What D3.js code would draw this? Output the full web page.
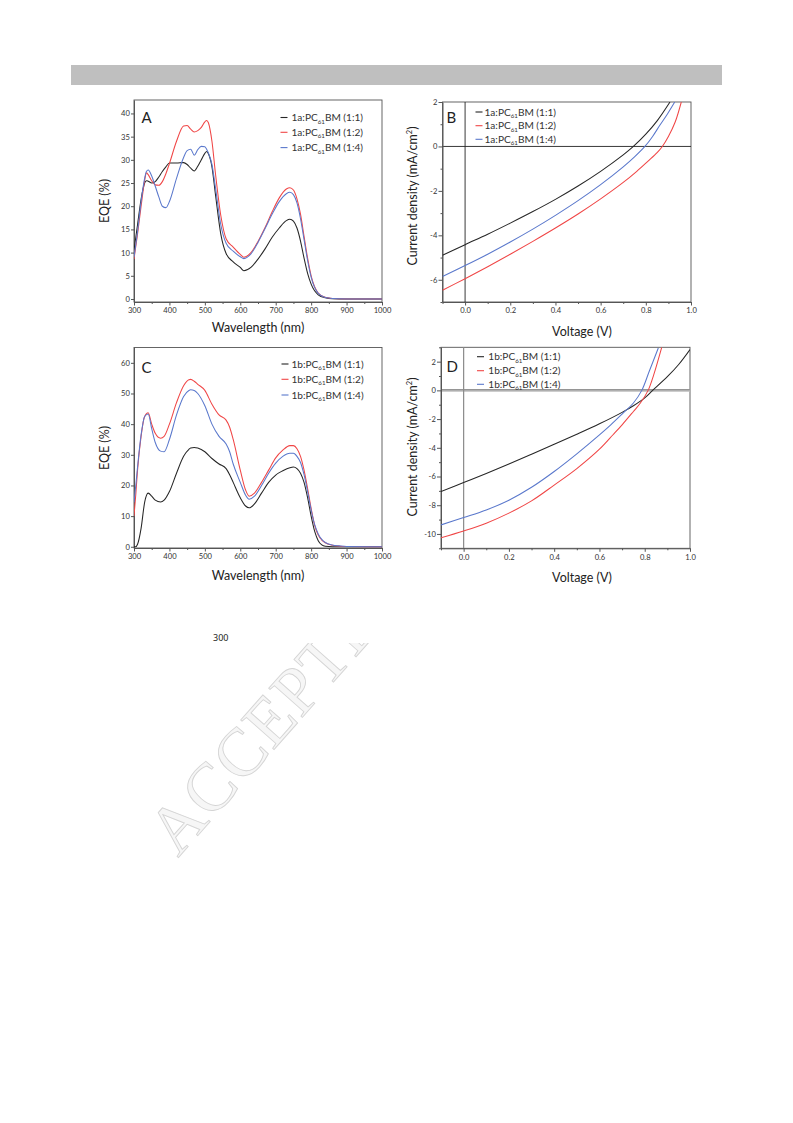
<!DOCTYPE html>
<html>
<head>
<meta charset="utf-8">
<script src="https://cdn.jsdelivr.net/npm/d3@7"></script>
<style>
  html, body { margin: 0; padding: 0; background: #fff; }
  svg { display: block; }
</style>
</head>
<body>
<svg id="page" width="793" height="1123"></svg>
<script>
// ---------------- DATA ----------------
// Panel A: EQE (%) vs wavelength (nm), 1a:PC61BM
const wlA = [300,310,320,330,335,340,350,360,370,380,390,400,420,440,450,460,470,480,490,500,505,510,520,530,545,560,580,600,610,630,650,670,690,710,730,740,750,760,770,780,790,800,820,840,860,900,1000];
const eqeA_11 = [10.5,16,21.5,25,25.5,25.4,25,25.3,26.3,27.5,28.5,29.3,29.3,29.4,29,28.2,27.6,28.6,30,31.4,31.8,31.3,28.5,22.5,14,9.8,8,6.8,6.1,6.8,8.6,10.8,13.3,15.3,16.9,17.2,16.8,15.3,12.5,8.8,5.5,3.2,0.9,0.25,0.05,0,0];
const eqeA_12 = [8.6,14,20,25.5,27.2,26.8,25.5,24.6,24.5,25.3,27,29.2,34,37.3,37.4,36.6,36,36.3,37,38.2,38.5,38,34,27,18,13,11.2,9.6,9,10,12.4,15.4,18.8,21.8,23.7,24,23.5,21.6,18.3,13.5,8.8,5,1.3,0.35,0.1,0,0];
const eqeA_14 = [9,14.5,21,26,27.5,27.8,26.5,24.3,22,20,19.7,21,26,30.5,32,32.3,31,32.2,32.9,32.8,32.3,31.5,29,24,16,12,10.3,9.1,8.7,9.7,12.2,15.2,18.3,21,22.7,23,22.5,20.7,17.3,12.8,8.3,4.7,1.2,0.3,0.1,0,0];

// Panel C: EQE (%) vs wavelength (nm), 1b:PC61BM
const wlC = [300,305,310,320,330,340,350,360,375,385,400,420,440,455,460,470,480,500,520,540,560,570,580,600,615,625,640,660,680,700,720,740,750,760,770,780,790,800,810,820,830,840,860,880,900,1000];
const eqeC_11 = [0,0,0.8,6,14.5,17.5,16.5,15.2,14.6,15.2,18,24,29.5,31.8,32.2,32.4,32.2,31,28.8,27,25.5,23.5,21,16,13.3,12.7,14,17.5,21,23.4,24.8,25.8,26,25.5,24,21,16,10,5,2,0.6,0.15,0,0,0,0];
const eqeC_12 = [10,17,25,36,42.5,43.7,40,37,35.4,36,40,47,52.5,54.5,54.6,54,53,51,46.5,43,41.3,39,35,25,18.5,16.5,17.5,21,25,29,31.5,33,33,32,29.5,25,19,12.5,7,3.8,2.2,1.3,0.5,0.2,0.1,0];
const eqeC_14 = [14.5,20,26,36.5,42.5,43.3,38.5,34,31.2,31,35,43,49,51,51.2,51,50,46,40,36,33.5,31,27,21,16.8,15.5,16.5,20,24,27.3,29.5,30.5,30.5,29.5,27.5,23.5,18,12,7.2,4.2,2.4,1.4,0.6,0.3,0.1,0];

// Panel B: J-V, 1a:PC61BM
const vB_11 = [-0.1,0,0.1,0.2,0.3,0.4,0.5,0.6,0.7,0.745,0.8,0.85,0.907];
const jB_11 = [-4.9,-4.42,-3.95,-3.45,-2.93,-2.38,-1.78,-1.12,-0.38,0,0.55,1.15,2.0];
const vB_12 = [-0.1,0,0.1,0.2,0.3,0.4,0.5,0.6,0.7,0.76,0.81,0.85,0.873,0.9,0.93,0.957];
const jB_12 = [-6.47,-5.95,-5.41,-4.85,-4.27,-3.67,-3.04,-2.36,-1.62,-1.12,-0.66,-0.28,0,0.45,1.1,2.0];
const vB_14 = [-0.1,0,0.1,0.2,0.3,0.4,0.5,0.6,0.7,0.75,0.796,0.83,0.862,0.895,0.928];
const jB_14 = [-5.85,-5.36,-4.85,-4.3,-3.72,-3.1,-2.44,-1.72,-0.92,-0.47,0,0.45,0.95,1.45,2.0];

// Panel D: J-V, 1b:PC61BM
const vD_11 = [-0.1,0,0.1,0.2,0.3,0.4,0.5,0.6,0.7,0.75,0.8,0.835,0.9,0.95,1.0];
const jD_11 = [-7.05,-6.42,-5.79,-5.13,-4.45,-3.76,-3.06,-2.33,-1.53,-1.07,-0.52,0,0.95,1.8,2.84];
const vD_12 = [-0.1,0,0.1,0.2,0.3,0.4,0.5,0.6,0.66,0.7,0.75,0.78,0.815,0.84,0.875];
const jD_12 = [-10.26,-9.79,-9.25,-8.55,-7.7,-6.6,-5.45,-4.1,-3.09,-2.4,-1.47,-0.9,0,1.1,3.0];
const vD_14 = [-0.1,0,0.1,0.2,0.3,0.4,0.5,0.6,0.65,0.7,0.75,0.787,0.82,0.86];
const jD_14 = [-9.37,-8.86,-8.33,-7.65,-6.75,-5.65,-4.42,-3.1,-2.4,-1.65,-0.88,0,1.33,2.95];

// Tick values / labels
const wlTicks = [300,400,500,600,700,800,900,1000];
const wlMinor = [350,450,550,650,750,850,950];
const eqeTicksA = [0,5,10,15,20,25,30,35,40];
const eqeTicksC = [0,10,20,30,40,50,60];
const vTicks = [0,0.2,0.4,0.6,0.8,1.0];
const vMinor = [-0.1,0.1,0.3,0.5,0.7,0.9];
const jTicksB = [2,0,-2,-4,-6];
const jMinorB = [1,-1,-3,-5,-7];
const jTicksD = [2,0,-2,-4,-6,-8,-10];
const jMinorD = [3,1,-1,-3,-5,-7,-9,-11];

const seriesNames = ["(1:1)","(1:2)","(1:4)"];
const colors = ["#262626","#f04646","#5a78cc"];

// ---------------- DRAW ----------------
const svg = d3.select("#page");
const FONT = "Lato, 'Open Sans', sans-serif";

// Watermark (partly hidden behind figure area)
svg.append("text")
  .attr("transform","translate(178,858) rotate(-48.5)")
  .attr("font-family","'Liberation Serif', serif")
  .attr("font-size",68)
  .attr("fill","#f6f6f6")
  .attr("stroke","#d4d4d4")
  .attr("stroke-width",0.9)
  .attr("letter-spacing",1)
  .text("ACCEPTED MANUSCRIPT");

// white figure area covering the watermark
svg.append("rect").attr("x",70).attr("y",95).attr("width",652).attr("height",548).attr("fill","#fff");

// header grey bar
svg.append("rect").attr("x",71).attr("y",65).attr("width",651).attr("height",20).attr("fill","#bfbfbf");

svg.append("text").attr("x",213).attr("y",641)
  .attr("font-family","'Noto Sans', sans-serif").attr("font-size",9).attr("fill","#222")
  .text("300");

let clipId = 0;
function panel(cfg) {
  const g = svg.append("g");
  const x = d3.scaleLinear().domain(cfg.xDomain).range([cfg.left, cfg.right]);
  const y = d3.scaleLinear().domain(cfg.yDomain).range([cfg.bottom, cfg.top]);
  const id = "clip" + (clipId++);
  svg.append("clipPath").attr("id", id).append("rect")
    .attr("x", cfg.left).attr("y", cfg.top)
    .attr("width", cfg.right - cfg.left).attr("height", cfg.bottom - cfg.top);

  // frame
  g.append("rect").attr("x",cfg.left).attr("y",cfg.top)
    .attr("width",cfg.right-cfg.left).attr("height",cfg.bottom-cfg.top)
    .attr("fill","none").attr("stroke","#555").attr("stroke-width",0.9);

  // zero lines
  if (cfg.zeroLines) {
    const zl = g.append("g");
    if (cfg.zeroStyle === "grey") {
      zl.append("line").attr("x1",cfg.left).attr("x2",cfg.right).attr("y1",y(0)).attr("y2",y(0))
        .attr("stroke","#bdbdbd").attr("stroke-width",2.6);
      zl.append("line").attr("x1",cfg.left).attr("x2",cfg.right).attr("y1",y(0)-0.6).attr("y2",y(0)-0.6)
        .attr("stroke","#7a7a7a").attr("stroke-width",0.8);
      zl.append("line").attr("x1",x(0)).attr("x2",x(0)).attr("y1",cfg.top).attr("y2",cfg.bottom)
        .attr("stroke","#8a8a8a").attr("stroke-width",1.2);
    } else {
      zl.append("line").attr("x1",cfg.left).attr("x2",cfg.right).attr("y1",y(0)).attr("y2",y(0))
        .attr("stroke","#222").attr("stroke-width",0.9);
      zl.append("line").attr("x1",x(0)).attr("x2",x(0)).attr("y1",cfg.top).attr("y2",cfg.bottom)
        .attr("stroke","#222").attr("stroke-width",0.9);
    }
  }

  const fmtX = cfg.fmtX, fmtY = cfg.fmtY;
  // minor x ticks
  const xMinorAxis = d3.axisBottom(x).tickValues(cfg.xMinor).tickSize(2).tickSizeOuter(0).tickFormat("");
  g.append("g").attr("transform",`translate(0,${cfg.bottom})`).call(xMinorAxis)
    .call(s => s.select(".domain").remove())
    .call(s => s.selectAll("line").attr("stroke","#555"));
  const xAxis = d3.axisBottom(x).tickValues(cfg.xTicks).tickSize(3.5).tickSizeOuter(0).tickPadding(2.5).tickFormat(fmtX);
  g.append("g").attr("transform",`translate(0,${cfg.bottom})`).call(xAxis)
    .call(s => s.select(".domain").attr("stroke","#555"))
    .call(s => s.selectAll("line").attr("stroke","#555"))
    .call(s => s.selectAll("text").attr("font-family",FONT).attr("font-size",7.6).attr("fill","#333"));

  if (cfg.yMinor) {
    const yMinorAxis = d3.axisLeft(y).tickValues(cfg.yMinor).tickSize(2).tickSizeOuter(0).tickFormat("");
    g.append("g").attr("transform",`translate(${cfg.left},0)`).call(yMinorAxis)
      .call(s => s.select(".domain").remove())
      .call(s => s.selectAll("line").attr("stroke","#555"));
  }
  const yAxis = d3.axisLeft(y).tickValues(cfg.yTicks).tickSize(cfg.yTickSize).tickSizeOuter(0).tickPadding(1.2).tickFormat(fmtY);
  g.append("g").attr("transform",`translate(${cfg.left},0)`).call(yAxis)
    .call(s => s.select(".domain").attr("stroke","#555"))
    .call(s => s.selectAll("line").attr("stroke","#555"))
    .call(s => s.selectAll("text").attr("font-family",FONT).attr("font-size",7.6).attr("fill","#333"));

  // curves
  const line = d3.line().x(d => x(d[0])).y(d => y(d[1])).curve(cfg.curve);
  const cg = g.append("g").attr("clip-path",`url(#${id})`);
  cfg.series.forEach((s, i) => {
    const pts = s.x.map((v, k) => [v, s.y[k]]);
    cg.append("path").datum(pts).attr("d", line)
      .attr("fill","none").attr("stroke", colors[i]).attr("stroke-width",1.05);
  });

  // panel letter
  g.append("text").attr("x",cfg.letterX).attr("y",cfg.letterY)
    .attr("font-family",FONT).attr("font-size",15).attr("fill","#222").text(cfg.letter);

  // legend
  cfg.series.forEach((s, i) => {
    const ly = cfg.legY[i];
    g.append("line").attr("x1",cfg.legLineX).attr("x2",cfg.legLineX+7).attr("y1",ly).attr("y2",ly)
      .attr("stroke",colors[i]).attr("stroke-width",1.1);
    const t = g.append("text").attr("x",cfg.legTextX).attr("y",ly+3.5)
      .attr("font-family",FONT).attr("font-size",10.1).attr("fill","#333");
    t.append("tspan").text(cfg.prefix + ":PC");
    t.append("tspan").attr("font-size",6.2).attr("dy",2.5).text("61");
    t.append("tspan").attr("dy",-2.5).text("BM " + seriesNames[i]);
  });

  // axis titles
  g.append("text").attr("x",cfg.xTitleX).attr("y",cfg.xTitleY).attr("text-anchor","middle")
    .attr("font-family",FONT).attr("font-size",12.5).attr("fill","#222").text(cfg.xTitle);
  const yt = g.append("text").attr("transform",`translate(${cfg.yTitleX},${cfg.yTitleY}) rotate(-90)`)
    .attr("text-anchor","middle").attr("font-family",FONT).attr("font-size",12.5).attr("fill","#222");
  if (cfg.yTitleSup) {
    yt.append("tspan").text("Current density (mA/cm");
    yt.append("tspan").attr("font-size",7.5).attr("dy",-5).text("2");
    yt.append("tspan").attr("dy",5).text(")");
  } else {
    yt.text(cfg.yTitle);
  }
}

const fmtInt = d => String(d);
const fmtV = d => d3.format(".1f")(d);
const smoothEQE = d3.curveMonotoneX;
const smoothJV = d3.curveCatmullRom.alpha(0.5);

panel({
  left:134, right:382, top:100, bottom:302,
  xDomain:[300,1000], yDomain:[-0.65,42.9],
  xTicks:wlTicks, xMinor:wlMinor, yTicks:eqeTicksA, yMinor:null, yTickSize:3,
  fmtX:fmtInt, fmtY:fmtInt, curve:smoothEQE,
  series:[{x:wlA,y:eqeA_11},{x:wlA,y:eqeA_12},{x:wlA,y:eqeA_14}],
  letter:"A", letterX:141.5, letterY:122.5,
  legY:[117.5,132.3,147.6], legLineX:280.5, legTextX:291.5, prefix:"1a",
  xTitle:"Wavelength (nm)", xTitleX:258, xTitleY:332,
  yTitle:"EQE (%)", yTitleX:109, yTitleY:201
});

panel({
  left:442.5, right:691, top:102, bottom:302,
  xDomain:[-0.1,1.0], yDomain:[-7,2],
  xTicks:vTicks, xMinor:vMinor, yTicks:jTicksB, yMinor:jMinorB, yTickSize:4,
  fmtX:fmtV, fmtY:fmtInt, curve:smoothJV,
  zeroLines:true, zeroStyle:"black",
  series:[{x:vB_11,y:jB_11},{x:vB_12,y:jB_12},{x:vB_14,y:jB_14}],
  letter:"B", letterX:446.5, letterY:122.5,
  legY:[112,125.7,139.3], legLineX:475.5, legTextX:484.5, prefix:"1a",
  xTitle:"Voltage (V)", xTitleX:582, xTitleY:336,
  yTitleSup:true, yTitleX:417, yTitleY:196
});

panel({
  left:134, right:382, top:347.5, bottom:548,
  xDomain:[300,1000], yDomain:[-0.4,65],
  xTicks:wlTicks, xMinor:wlMinor, yTicks:eqeTicksC, yMinor:null, yTickSize:3,
  fmtX:fmtInt, fmtY:fmtInt, curve:smoothEQE,
  series:[{x:wlC,y:eqeC_11},{x:wlC,y:eqeC_12},{x:wlC,y:eqeC_14}],
  letter:"C", letterX:141.5, letterY:372.5,
  legY:[364,379.3,395], legLineX:281.5, legTextX:291.5, prefix:"1b",
  xTitle:"Wavelength (nm)", xTitleX:258, xTitleY:580,
  yTitle:"EQE (%)", yTitleX:109, yTitleY:448
});

panel({
  left:441, right:690, top:347.3, bottom:548.3,
  xDomain:[-0.1,1.0], yDomain:[-11,3],
  xTicks:vTicks, xMinor:vMinor, yTicks:jTicksD, yMinor:jMinorD, yTickSize:4,
  fmtX:fmtV, fmtY:fmtInt, curve:smoothJV,
  zeroLines:true, zeroStyle:"grey",
  series:[{x:vD_11,y:jD_11},{x:vD_12,y:jD_12},{x:vD_14,y:jD_14}],
  letter:"D", letterX:446.5, letterY:372,
  legY:[356.7,370.7,384.3], legLineX:477, legTextX:488.3, prefix:"1b",
  xTitle:"Voltage (V)", xTitleX:582, xTitleY:582,
  yTitleSup:true, yTitleX:417, yTitleY:447
});
</script>
</body>
</html>
